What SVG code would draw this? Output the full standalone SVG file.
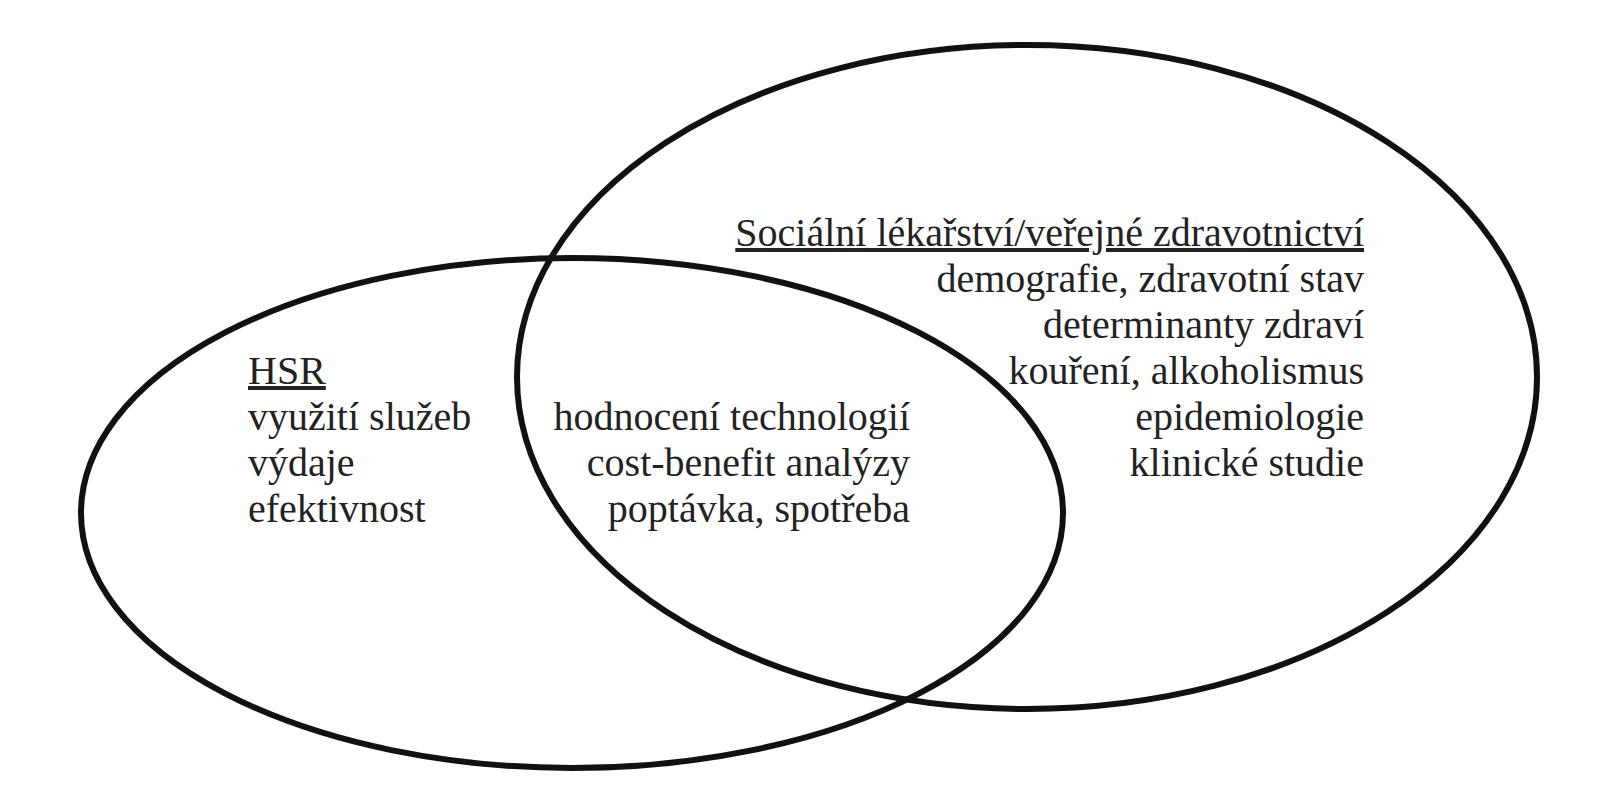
<svg xmlns="http://www.w3.org/2000/svg" width="1618" height="800" viewBox="0 0 1618 800">
<style>
.e{fill:none;stroke:#111;stroke-width:6}
text{font-family:"Liberation Serif","Times New Roman","DejaVu Serif",serif;font-size:40px;fill:#222}
.r{text-anchor:end}
.u{text-decoration:underline}
</style>
<rect width="1618" height="800" fill="#fff"/>
<g id="hsr">
<ellipse class="e" cx="572" cy="513" rx="491" ry="255"/>
<text x="248" y="384"><tspan class="u">HSR</tspan></text>
<text x="248" y="430">využití služeb</text>
<text x="248" y="476">výdaje</text>
<text x="248" y="522">efektivnost</text>
</g>
<g id="public-health">
<ellipse class="e" cx="1027" cy="377" rx="510" ry="332"/>
<text class="r" x="1364" y="246"><tspan class="u">Sociální lékařství/veřejné zdravotnictví</tspan></text>
<text class="r" x="1364" y="292">demografie, zdravotní stav</text>
<text class="r" x="1364" y="338">determinanty zdraví</text>
<text class="r" x="1364" y="384">kouření, alkoholismus</text>
<text class="r" x="1364" y="430">epidemiologie</text>
<text class="r" x="1364" y="476">klinické studie</text>
</g>
<g id="overlap">
<text class="r" x="910" y="430">hodnocení technologií</text>
<text class="r" x="910" y="476">cost-benefit analýzy</text>
<text class="r" x="910" y="522">poptávka, spotřeba</text>
</g>
<g id="connectors"/>
</svg>
